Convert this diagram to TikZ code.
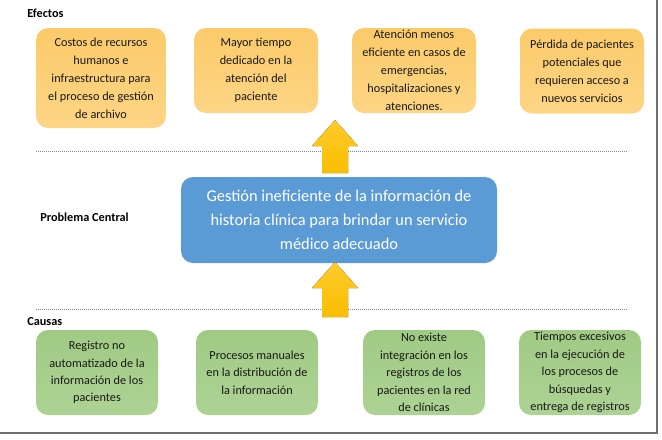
\documentclass[tikz,border=0pt]{standalone}
\usepackage{fontspec}
\setmainfont{Carlito}
\usetikzlibrary{calc}
\definecolor{orTop}{HTML}{FDD585}
\definecolor{orBot}{HTML}{FBCB6A}
\definecolor{grTop}{HTML}{ADD394}
\definecolor{grBot}{HTML}{A0CA84}
\definecolor{blueFill}{HTML}{5B9BD5}
\definecolor{arTop}{HTML}{F8BE00}
\definecolor{arBot}{HTML}{FFCA2C}
\definecolor{frameGray}{HTML}{6E6E6E}
\definecolor{dotGray}{HTML}{8A8A8A}
\begin{document}
\begin{tikzpicture}[x=0.75pt,y=-0.75pt,
  boxbase/.style={rounded corners=9pt, draw=none, align=center, inner sep=0pt},
  effbox/.style={boxbase, top color=orBot, bottom color=orTop,
    font=\fontsize{9.2}{13.5}\selectfont, text=black!90},
  causebox/.style={boxbase, top color=grBot, bottom color=grTop,
    font=\fontsize{9.2}{13.1}\selectfont, text=black!90},
  centralbox/.style={boxbase, fill=blueFill, text=white,
    font=\fontsize{12.3}{18}\selectfont},
  sectlabel/.style={anchor=west, font=\fontsize{9.2}{11}\selectfont\bfseries, inner sep=0pt},
  sepline/.style={dotGray, line width=0.7pt, dash pattern=on 0.9pt off 0.6pt},
  framelinestyle/.style={frameGray, line width=1.5pt},
  blockarrow/.style={top color=arBot, bottom color=arTop, draw=none}
]
\useasboundingbox (0,0) rectangle (662,440);

% frame
\coordinate (frTop) at (657,0);
\coordinate (frCorner) at (657,433);
\coordinate (frLeft) at (0,433);
\draw[framelinestyle] (frTop) -- (frCorner) -- (frLeft);

% section labels
\node[sectlabel] (lblEfectos) at (27,13) {Efectos};
\node[sectlabel] (lblProblema) at (40,217) {Problema Central};
\node[sectlabel] (lblCausas) at (27,322) {Causas};

% separator lines
\coordinate (sep1a) at (36,151);
\coordinate (sep1b) at (627,151);
\coordinate (sep2a) at (36,309);
\coordinate (sep2b) at (628,309);
\draw[sepline] (sep1a) -- (sep1b);
\draw[sepline] (sep2a) -- (sep2b);

% effects
\node[effbox, minimum width=97.5pt, minimum height=75pt] (e1) at (101,78)
  {Costos de recursos\\humanos e\\infraestructura para\\el proceso de gestión\\de archivo};
\node[effbox, minimum width=93pt, minimum height=63.75pt] (e2) at (256,70.5)
  {Mayor tiempo\\dedicado en la\\atención del\\paciente};
\node[effbox, minimum width=93pt, minimum height=63.75pt] (e3) at (414,70.5)
  {Atención menos\\eficiente en casos de\\emergencias,\\hospitalizaciones y\\atenciones.};
\node[effbox, minimum width=93pt, minimum height=63.75pt] (e4) at (582,71)
  {Pérdida de pacientes\\potenciales que\\requieren acceso a\\nuevos servicios};

% central problem
\node[centralbox, minimum width=237pt, minimum height=64.5pt] (central) at (339,220)
  {Gestión ineficiente de la información de\\historia clínica para brindar un servicio\\médico adecuado};

% causes
\node[causebox, minimum width=91.5pt, minimum height=63.75pt] (c1) at (97,372.5)
  {Registro no\\automatizado de la\\información de los\\pacientes};
\node[causebox, minimum width=91.5pt, minimum height=63.75pt] (c2) at (257,372.5)
  {Procesos manuales\\en la distribución de\\la información};
\node[causebox, minimum width=91.5pt, minimum height=63.75pt] (c3) at (424,372.5)
  {No existe\\integración en los\\registros de los\\pacientes en la red\\de clínicas};
\node[causebox, minimum width=91.5pt, minimum height=63.75pt] (c4) at (580,372.5)
  {Tiempos excesivos\\en la ejecución de\\los procesos de\\búsquedas y\\entrega de registros};

% block arrows
\coordinate (upTip) at (335,120);
\fill[blockarrow] (upTip) -- ($(upTip)+(23,26)$) -- ($(upTip)+(13,26)$) -- ($(upTip)+(13,53)$)
  -- ($(upTip)+(-13,53)$) -- ($(upTip)+(-13,26)$) -- ($(upTip)+(-23,26)$) -- cycle;
\coordinate (lowTip) at (335,262);
\fill[blockarrow] (lowTip) -- ($(lowTip)+(23,26)$) -- ($(lowTip)+(13,26)$) -- ($(lowTip)+(13,55)$)
  -- ($(lowTip)+(-13,55)$) -- ($(lowTip)+(-13,26)$) -- ($(lowTip)+(-23,26)$) -- cycle;
\end{tikzpicture}
\end{document}
